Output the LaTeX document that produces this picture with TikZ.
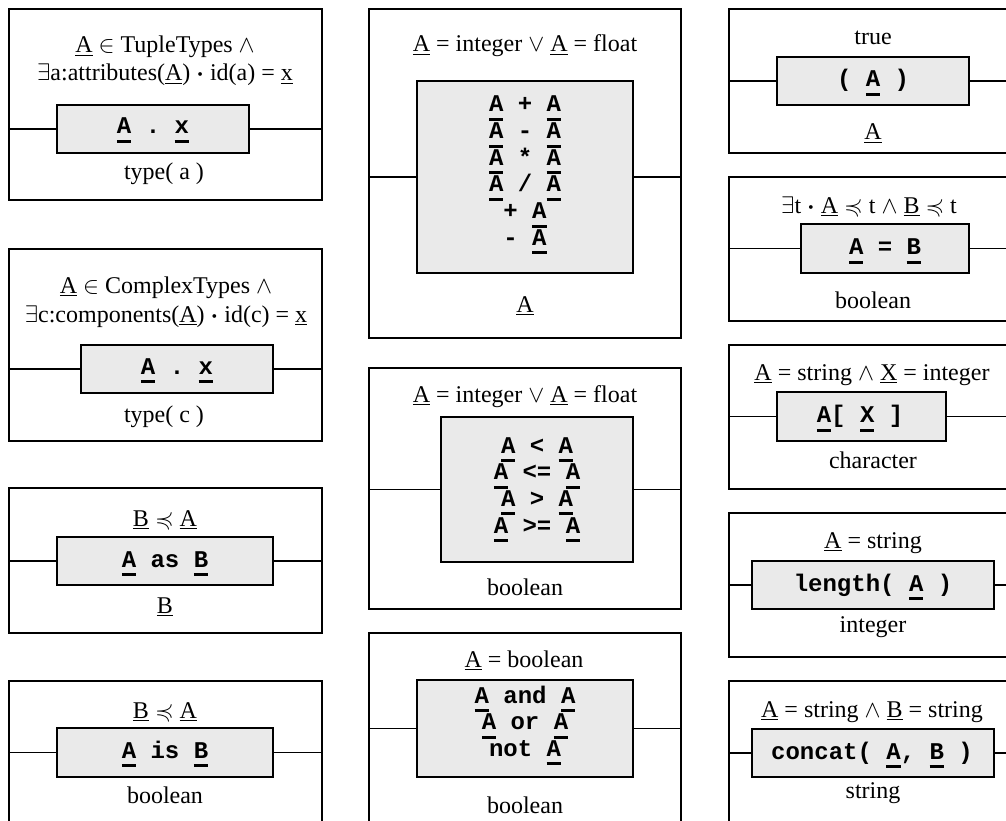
\documentclass[tikz,border=0pt]{standalone}
\usepackage{fix-cm}
\usepackage{amsmath}
\usepackage{amssymb}
\usepackage{fontspec}
\setmainfont{Liberation Serif}
\setmonofont{Liberation Mono}
\definecolor{boxgray}{RGB}{234,234,234}
% underlined metavariables: thin rule in the prose font, heavy rule in code
\newcommand\tu[1]{\leavevmode\setbox0=\hbox{#1}\rlap{\raisebox{-3.4pt}{\rule{\wd0}{1.4pt}}}\box0\relax}
\newcommand\cu[1]{\leavevmode\setbox0=\hbox{#1}\rlap{\raisebox{-9pt}{\rule{\wd0}{3pt}}}\box0\relax}
\newcommand\prosefont{\fontsize{24}{28}\selectfont}
\newcommand\codefont{\fontsize{24}{26.7}\selectfont\ttfamily\bfseries}
% connector from the panel border to the operator box on both sides
\newcommand\wire[2]{%
  \draw[link] (#1.west |- #2.west) -- (#2.west);
  \draw[link] (#2.east) -- (#1.east |- #2.east);}
\begin{document}
\begin{tikzpicture}[x=1pt,y=-1pt,
  outerbox/.style={draw=black, line width=1.7pt, inner sep=0pt, outer sep=0pt},
  innerbox/.style={draw=black, fill=boxgray, line width=1.7pt, inner sep=0pt, outer sep=0pt},
  link/.style={line width=1.7pt},
  lbl/.style={anchor=base, inner sep=0pt, font=\prosefont},
  code/.style={anchor=base, inner sep=0pt, font=\codefont}]
\useasboundingbox (0,0) rectangle (1006,821);
\clip (0,0) rectangle (1006,821);
\fill[white] (0,0) rectangle (1006,821);

% ---------- left column ----------
% tuple attribute access
\node[outerbox, minimum width=313pt, minimum height=191pt] (p1) at (165.5,104.5) {};
\node[innerbox, minimum width=192pt, minimum height=48pt] (i1) at (153,129) {};
\wire{p1}{i1}
\node[lbl] (t1a) at (165,53) {\tu{A} $\in$ TupleTypes $\wedge$};
\node[lbl] (t1b) at (165,81) {$\exists$a:attributes(\tu{A}) $\boldsymbol{\cdot}$ id(a) = \tu{x}};
\node[code] (c1) at (153,134) {\cu{A} . \cu{x}};
\node[lbl] (b1) at (164,180) {type( a )};

% complex component access
\node[outerbox, minimum width=313pt, minimum height=192pt] (p2) at (165.5,345) {};
\node[innerbox, minimum width=192pt, minimum height=48pt] (i2) at (177,369) {};
\wire{p2}{i2}
\node[lbl] (t2a) at (166,293) {\tu{A} $\in$ ComplexTypes $\wedge$};
\node[lbl] (t2b) at (166,322) {$\exists$c:components(\tu{A}) $\boldsymbol{\cdot}$ id(c) = \tu{x}};
\node[code] (c2) at (177,374) {\cu{A} . \cu{x}};
\node[lbl] (b2) at (164,422) {type( c )};

% cast
\node[outerbox, minimum width=313pt, minimum height=145pt] (p3) at (165.5,560.5) {};
\node[innerbox, minimum width=216pt, minimum height=48pt] (i3) at (165,561) {};
\wire{p3}{i3}
\node[lbl] (t3) at (165,526) {\tu{B} $\preccurlyeq$ \tu{A}};
\node[code] (c3) at (165,567) {\cu{A} as \cu{B}};
\node[lbl] (b3) at (165,613) {\tu{B}};

% type test
\node[outerbox, minimum width=313pt, minimum height=145pt] (p4) at (165.5,753.5) {};
\node[innerbox, minimum width=216pt, minimum height=49pt] (i4) at (165,752.5) {};
\wire{p4}{i4}
\node[lbl] (t4) at (165,718) {\tu{B} $\preccurlyeq$ \tu{A}};
\node[code] (c4) at (165,758) {\cu{A} is \cu{B}};
\node[lbl] (b4) at (165,803) {boolean};

% ---------- middle column ----------
% arithmetic
\node[outerbox, minimum width=312pt, minimum height=329pt] (p5) at (525,173.5) {};
\node[innerbox, minimum width=216pt, minimum height=192pt] (i5) at (525,177) {};
\wire{p5}{i5}
\node[lbl] (t5) at (525,52) {\tu{A} = integer $\vee$ \tu{A} = float};
\node[code] (c5a) at (525,112)   {\cu{A} + \cu{A}};
\node[code] (c5b) at (525,138.7) {\cu{A} - \cu{A}};
\node[code] (c5c) at (525,165.3) {\cu{A} * \cu{A}};
\node[code] (c5d) at (525,192)   {\cu{A} / \cu{A}};
\node[code] (c5e) at (525,218.7) {+ \cu{A}};
\node[code] (c5f) at (525,245.3) {- \cu{A}};
\node[lbl] (b5) at (525,312) {\tu{A}};

% comparison
\node[outerbox, minimum width=312pt, minimum height=241pt] (p6) at (525,488.5) {};
\node[innerbox, minimum width=192pt, minimum height=145pt] (i6) at (537,489.5) {};
\wire{p6}{i6}
\node[lbl] (t6) at (525,402) {\tu{A} = integer $\vee$ \tu{A} = float};
\node[code] (c6a) at (537,453)   {\cu{A} < \cu{A}};
\node[code] (c6b) at (537,479.7) {\cu{A} <= \cu{A}};
\node[code] (c6c) at (537,506.3) {\cu{A} > \cu{A}};
\node[code] (c6d) at (537,533)   {\cu{A} >= \cu{A}};
\node[lbl] (b6) at (525,595) {boolean};

% logic
\node[outerbox, minimum width=312pt, minimum height=241pt] (p7) at (525,753.5) {};
\node[innerbox, minimum width=216pt, minimum height=97pt] (i7) at (525,728.5) {};
\wire{p7}{i7}
\node[lbl] (t7) at (524,667) {\tu{A} = boolean};
\node[code] (c7a) at (525,703)   {\cu{A} and \cu{A}};
\node[code] (c7b) at (525,729.7) {\cu{A} or \cu{A}};
\node[code] (c7c) at (525,756.3) {not \cu{A}};
\node[lbl] (b7) at (525,813) {boolean};

% ---------- right column ----------
% parentheses
\node[outerbox, minimum width=288pt, minimum height=144pt] (p8) at (873,81) {};
\node[innerbox, minimum width=192pt, minimum height=48pt] (i8) at (873,81) {};
\wire{p8}{i8}
\node[lbl] (t8) at (873,45) {true};
\node[code] (c8) at (873,87) {( \cu{A} )};
\node[lbl] (b8) at (873,140) {\tu{A}};

% equality
\node[outerbox, minimum width=288pt, minimum height=144pt] (p9) at (873,249) {};
\node[innerbox, minimum width=168pt, minimum height=49pt] (i9) at (885,248.5) {};
\wire{p9}{i9}
\node[lbl] (t9) at (869,213) {$\exists$t $\boldsymbol{\cdot}$ \tu{A} $\preccurlyeq$ t $\wedge$ \tu{B} $\preccurlyeq$ t};
\node[code] (c9) at (885,254.5) {\cu{A} = \cu{B}};
\node[lbl] (b9) at (873,308) {boolean};

% string indexing
\node[outerbox, minimum width=288pt, minimum height=144pt] (p10) at (873,417) {};
\node[innerbox, minimum width=169pt, minimum height=49pt] (i10) at (861.5,416.5) {};
\wire{p10}{i10}
\node[lbl] (t10) at (872,380) {\tu{A} = string $\wedge$ \tu{X} = integer};
\node[code] (c10) at (860,422.5) {\cu{A}[ \cu{X} ]};
\node[lbl] (b10) at (873,468) {character};

% string length
\node[outerbox, minimum width=288pt, minimum height=144pt] (p11) at (873,585) {};
\node[innerbox, minimum width=242pt, minimum height=48pt] (i11) at (873,585) {};
\wire{p11}{i11}
\node[lbl] (t11) at (873,548) {\tu{A} = string};
\node[code] (c11) at (873,591) {length( \cu{A} )};
\node[lbl] (b11) at (873,632) {integer};

% concatenation
\node[outerbox, minimum width=288pt, minimum height=144pt] (p12) at (873,753) {};
\node[innerbox, minimum width=242pt, minimum height=48pt] (i12) at (873,753) {};
\wire{p12}{i12}
\node[lbl] (t12) at (872,717) {\tu{A} = string $\wedge$ \tu{B} = string};
\node[code] (c12) at (872,759) {concat( \cu{A}, \cu{B} )};
\node[lbl] (b12) at (873,798) {string};
\end{tikzpicture}
\end{document}
